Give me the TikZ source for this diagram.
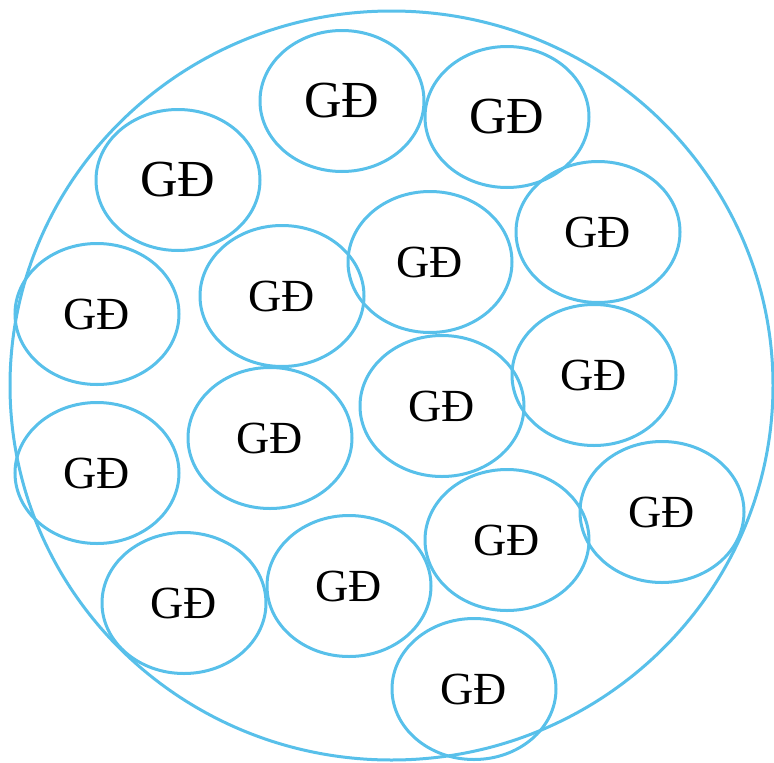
\documentclass[tikz,border=0pt]{standalone}
\usepackage{fontspec}
\setmainfont{Liberation Serif}
\usetikzlibrary{shapes.geometric}
\definecolor{gdblue}{RGB}{88,192,234}
\tikzset{
  gd/.style={ellipse, draw=gdblue, line width=3pt, minimum width=164pt, minimum height=141pt, inner sep=0pt, font=\fontsize{46}{46}\selectfont},
  gdbig/.style={gd, font=\fontsize{52}{52}\selectfont}
}
\begin{document}
\begin{tikzpicture}[x=1pt,y=-1pt]
            \useasboundingbox (0,0) rectangle (774,763);
            \node[ellipse, draw=gdblue, line width=3pt, minimum width=763pt, minimum height=749pt, inner sep=0pt] (outer) at (391.5,385.5) {};
            \node[gdbig] (e1) at (342,101) {GĐ};
            \node[gdbig] (e2) at (507,117) {GĐ};
            \node[gdbig] (e3) at (178,180) {GĐ};
            \node[gd] (e4) at (598,232) {GĐ};
            \node[gd] (e5) at (430,262) {GĐ};
            \node[gd] (e6) at (282,296) {GĐ};
            \node[gd] (e7) at (97,314) {GĐ};
            \node[gd] (e8) at (594,375) {GĐ};
            \node[gd] (e9) at (442,406) {GĐ};
            \node[gd] (e10) at (270,438) {GĐ};
            \node[gd] (e11) at (97,473) {GĐ};
            \node[gd] (e12) at (662,512) {GĐ};
            \node[gd] (e13) at (507,540) {GĐ};
            \node[gd] (e14) at (349,586) {GĐ};
            \node[gd] (e15) at (184,603) {GĐ};
            \node[gd] (e16) at (474,689) {GĐ};
\end{tikzpicture}
\end{document}
